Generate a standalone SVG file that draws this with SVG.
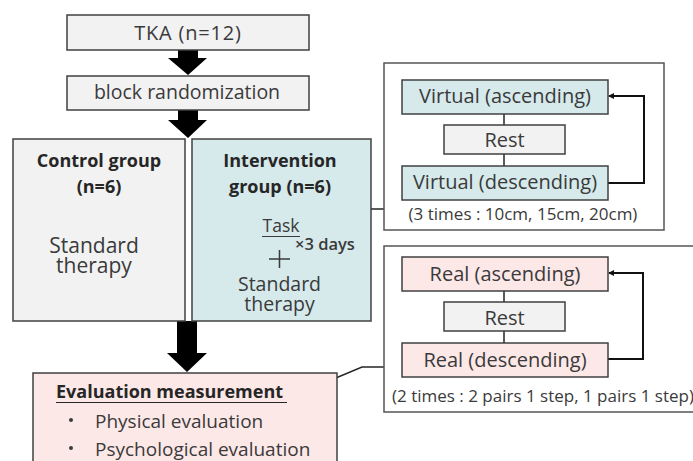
<svg xmlns="http://www.w3.org/2000/svg" width="693" height="461" viewBox="0 0 693 461">
<style>
text{font-family:"Open Sans","Noto Sans","DejaVu Sans",sans-serif;fill:#3a3a3a}
.b{font-weight:bold;fill:#262626}
.box{stroke:#404040;stroke-width:1.5}
.gray{fill:#f2f2f2}
.teal{fill:#d6e9eb}
.pink{fill:#fde8e8}
.panel{fill:#ffffff;stroke:#555555;stroke-width:1.5}
.ln{fill:none;stroke:#262626;stroke-width:1.5}
.loop{fill:none;stroke:#111111;stroke-width:2}
.big{fill:#000000}
</style>
<defs>
<marker id="ah" markerWidth="6" markerHeight="6" refX="5" refY="3" orient="auto" markerUnits="userSpaceOnUse">
<path d="M0,0 L6,3 L0,6 z" fill="#111111"/>
</marker>
</defs>
<g id="connectors">
<path class="big" d="M178,50 H198 V58 H207 L188,75 L168,58 H178 Z"/>
<path class="big" d="M178,110 H198 V120 H207 L188,138 L168,120 H178 Z"/>
<path class="big" d="M177,321 H197 V353 H207 L187,372 L167,353 H177 Z"/>
<path class="ln" d="M306,223 L363,209 H384"/>
<path class="ln" d="M300,393 L362,367 H384"/>
</g>
<g id="tka">
<rect class="box gray" x="67" y="15" width="242" height="35"/>
<text x="188" y="40" font-size="20" text-anchor="middle" letter-spacing="0.8">TKA (n=12)</text>
</g>
<g id="randomization">
<rect class="box gray" x="67" y="76" width="242" height="34"/>
<text x="187" y="99" font-size="19.5" text-anchor="middle">block randomization</text>
</g>
<g id="control">
<rect class="box gray" x="13" y="139" width="172" height="182"/>
<text class="b" x="99" y="167" font-size="18" text-anchor="middle">Control group</text>
<text class="b" x="99" y="193" font-size="18" text-anchor="middle">(n=6)</text>
<text font-size="21" text-anchor="middle"><tspan x="94" y="253">Standard</tspan><tspan x="94" y="273">therapy</tspan></text>
</g>
<g id="intervention">
<rect class="box teal" x="192" y="139" width="179" height="182"/>
<text class="b" x="280" y="167" font-size="18" text-anchor="middle">Intervention</text>
<text class="b" x="280" y="193" font-size="18" text-anchor="middle">group (n=6)</text>
<text x="281" y="232" font-size="17.5" text-anchor="middle">Task</text>
<line x1="262" y1="236.5" x2="300" y2="236.5" stroke="#3a3a3a" stroke-width="1.2"/>
<text x="295" y="250" font-size="16.5" font-weight="600">×3 days</text>
<path d="M269,259 H290 M279.5,250 V268" stroke="#3a3a3a" stroke-width="1.5" fill="none"/>
<text font-size="19.5" text-anchor="middle"><tspan x="279.5" y="291">Standard</tspan><tspan x="279.5" y="311">therapy</tspan></text>
</g>
<g id="evaluation">
<rect class="box pink" x="33" y="373" width="304" height="100"/>
<text class="b" x="56" y="398" font-size="18">Evaluation measurement</text>
<line x1="56" y1="402.5" x2="287" y2="402.5" stroke="#262626" stroke-width="1.2"/>
<circle cx="71" cy="420" r="2" fill="#3a3a3a"/>
<text x="95" y="428" font-size="19">Physical evaluation</text>
<circle cx="71" cy="448" r="2" fill="#3a3a3a"/>
<text x="95" y="456" font-size="19">Psychological evaluation</text>
</g>
<g id="virtual-panel">
<rect class="panel" x="384" y="63" width="280" height="167"/>
<path class="ln" d="M504,114 V125 M504,154 V166"/>
<path class="loop" d="M608,183 H644 V96 H609" marker-end="url(#ah)"/>
<g id="virtual-ascending">
<rect class="box teal" x="402" y="80" width="206" height="34"/>
<text x="505" y="103" font-size="20" text-anchor="middle">Virtual (ascending)</text>
</g>
<g id="virtual-rest">
<rect class="box gray" x="444" y="125" width="121" height="29"/>
<text x="504.5" y="147" font-size="20" text-anchor="middle">Rest</text>
</g>
<g id="virtual-descending">
<rect class="box teal" x="402" y="166" width="206" height="34"/>
<text x="505" y="189" font-size="20" text-anchor="middle">Virtual (descending)</text>
</g>
<text x="523" y="220" font-size="17" text-anchor="middle">(3 times : 10cm, 15cm, 20cm)</text>
</g>
<g id="real-panel">
<rect class="panel" x="384" y="246" width="320" height="166"/>
<path class="ln" d="M504,291 V302 M504,331 V343"/>
<path class="loop" d="M608,359 H643 V273 H609" marker-end="url(#ah)"/>
<g id="real-ascending">
<rect class="box pink" x="402" y="257" width="206" height="34"/>
<text x="505" y="281" font-size="20" text-anchor="middle">Real (ascending)</text>
</g>
<g id="real-rest">
<rect class="box gray" x="444" y="302" width="121" height="29"/>
<text x="504.5" y="325" font-size="20" text-anchor="middle">Rest</text>
</g>
<g id="real-descending">
<rect class="box pink" x="402" y="343" width="206" height="34"/>
<text x="505" y="367" font-size="20" text-anchor="middle">Real (descending)</text>
</g>
<text x="392" y="402" font-size="17">(2 times : 2 pairs 1 step, 1 pairs 1 step)</text>
</g>
</svg>
